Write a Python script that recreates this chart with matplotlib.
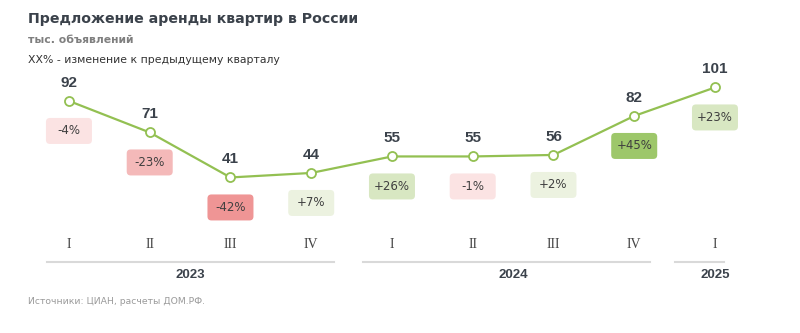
import matplotlib.pyplot as plt
import matplotlib.transforms as mtransforms
from matplotlib.patches import FancyBboxPatch

# ── Data ──
quarters = ['I', 'II', 'III', 'IV', 'I', 'II', 'III', 'IV', 'I']
values = [92, 71, 41, 44, 55, 55, 56, 82, 101]
changes = ['-4%', '-23%', '-42%', '+7%', '+26%', '-1%', '+2%', '+45%', '+23%']
badge_colors = ['#fbe3e3', '#f4b9b9', '#ef9595', '#ecf2e0', '#d8e7c2',
                '#fbe3e3', '#ecf2e0', '#9dc76a', '#d8e7c2']
years = ['2023', '2024', '2025']
year_groups = [(0, 3), (4, 7), (8, 8)]

line_color = '#93c052'
dark = '#3b424b'

fig = plt.figure(figsize=(8, 3.33), dpi=100)
ax = fig.add_axes([0, 0, 1, 1])
ax.set_xlim(-0.854, 9.053)
ax.set_ylim(-62.7, 159.3)
ax.axis('off')

x = list(range(len(values)))
ax.plot(x, values, color=line_color, linewidth=1.6, zorder=2)
ax.plot(x, values, 'o', markersize=6.5, markerfacecolor='white',
        markeredgecolor=line_color, markeredgewidth=1.3, zorder=3)

for i, (v, ch, col) in enumerate(zip(values, changes, badge_colors)):
    ax.annotate(str(v), (i, v), xytext=(0, 13), textcoords='offset points',
                ha='center', va='center', fontsize=11, fontweight='bold',
                family='Liberation Sans', color=dark)
    # fixed-size badge, offset in inches from the data point
    trans = fig.dpi_scale_trans + mtransforms.ScaledTranslation(i, v, ax.transData)
    box = FancyBboxPatch((-0.20, -0.40), 0.40, 0.20,
                         boxstyle='round,pad=0.03,rounding_size=0.04',
                         facecolor=col, edgecolor='none', transform=trans, zorder=1)
    ax.add_patch(box)
    ax.text(0, -0.30, ch, transform=trans, ha='center', va='center',
            fontsize=8.5, color='#3f3f3f', zorder=4)

# quarter labels and year groups
xtrans = mtransforms.blended_transform_factory(ax.transData, fig.transFigure)
for i, q in enumerate(quarters):
    ax.text(i, 1 - 244 / 333, q, transform=xtrans, ha='center', va='center',
            fontsize=10, family='Liberation Serif', color='#444444')

pads = [(0.27, 0.28), (0.36, 0.19), (0.5, 0.11)]
for yr, (a, b), (pl, pr) in zip(years, year_groups, pads):
    ax.plot([a - pl, b + pr], [1 - 262 / 333] * 2, transform=xtrans,
            color='#d9d9d9', linewidth=1.5, clip_on=False)
    ax.text((a + b) / 2, 1 - 275 / 333, yr, transform=xtrans, ha='center',
            va='center', fontsize=9.5, fontweight='bold',
            family='Liberation Sans', color=dark)

# titles
fig.text(28 / 800, 1 - 19 / 333, 'Предложение аренды квартир в России',
         fontsize=10.2, fontweight='bold', color=dark, va='center')
fig.text(28 / 800, 1 - 40 / 333, 'тыс. объявлений',
         fontsize=7.8, fontweight='bold', color='#7f7f7f', va='center')
fig.text(28 / 800, 1 - 60 / 333, 'XX% - изменение к предыдущему кварталу',
         fontsize=7.8, color='#333333', va='center')
fig.text(28 / 800, 1 - 302 / 333, 'Источники: ЦИАН, расчеты ДОМ.РФ.',
         fontsize=6.7, color='#9a9a9a', va='center')

fig.savefig('out.png', dpi=100, facecolor='white')
